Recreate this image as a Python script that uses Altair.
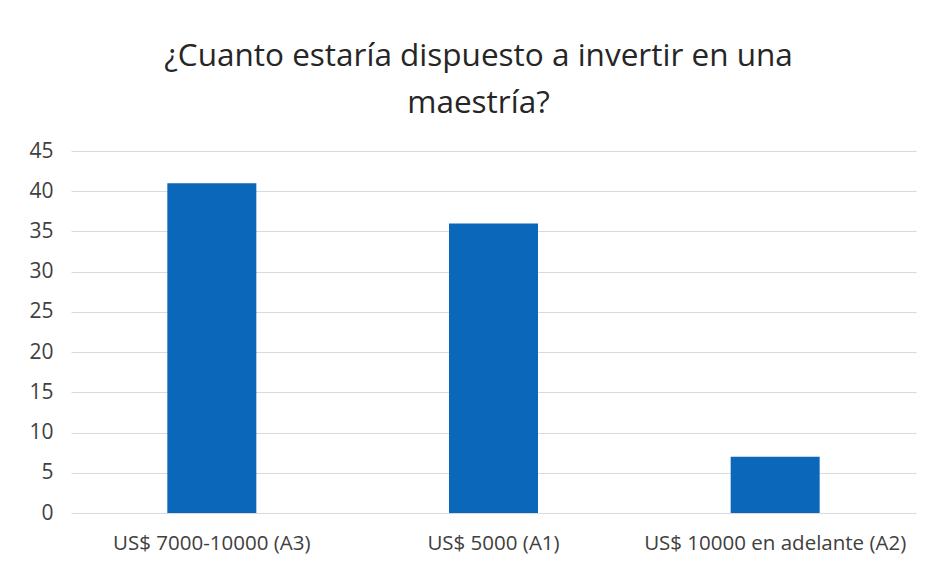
import altair as alt
import pandas as pd

categories = ["US$ 7000-10000 (A3)", "US$ 5000 (A1)", "US$ 10000 en adelante (A2)"]
values = [41, 36, 7]
y_ticks = [0, 5, 10, 15, 20, 25, 30, 35, 40, 45]
title_lines = ["¿Cuanto estaría dispuesto a invertir en una", "maestría?"]

df = pd.DataFrame({"cat": categories, "val": values})

font = "Open Sans"

chart = alt.Chart(df).mark_bar(size=89, color="#0A67BA").encode(
    x=alt.X("cat:N", sort=categories, title=None,
            scale=alt.Scale(paddingInner=0, paddingOuter=0),
            axis=alt.Axis(labelAngle=0, labelFontSize=20.5, labelColor="#404040",
                          labelFont=font, ticks=False, domain=False, labelPadding=20,
                          labelLimit=400)),
    y=alt.Y("val:Q", title=None,
            scale=alt.Scale(domain=[0, 45]),
            axis=alt.Axis(values=y_ticks, labelFontSize=21, labelColor="#404040",
                          labelFont=font, ticks=False, domain=False, labelPadding=18,
                          gridColor="#D9D9E0", gridWidth=1.2)),
).properties(
    width=845, height=362,
    background="white",
    autosize=alt.AutoSizeParams(type="none"),
    padding={"left": 63, "top": 143, "right": 6, "bottom": 54},
    title=alt.TitleParams(title_lines, fontSize=31.5, font=font, fontWeight="normal",
                          color="#262626", anchor="middle", lineHeight=47,
                          offset=21, dx=-15),
).configure_view(stroke=None)

chart.save("out.html", embed_options={"renderer": "svg", "actions": False})
